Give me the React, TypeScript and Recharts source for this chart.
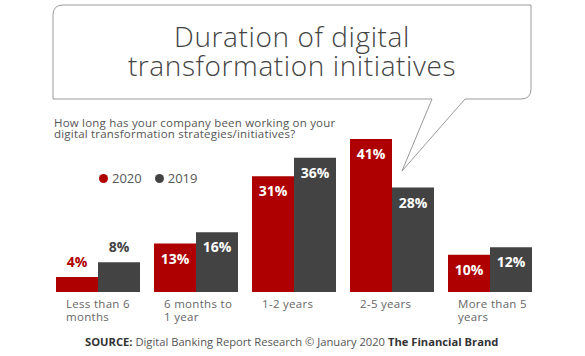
import React from 'react';
import { BarChart, Bar, XAxis, YAxis, LabelList, Legend } from 'recharts';

const categories = ['Less than 6 months', '6 months to 1 year', '1-2 years', '2-5 years', 'More than 5 years'];
const tickLines = [['Less than 6', 'months'], ['6 months to', '1 year'], ['1-2 years'], ['2-5 years'], ['More than 5', 'years']];
const values2020 = [4, 13, 31, 41, 10];
const values2019 = [8, 16, 36, 28, 12];
const seriesNames = ['2020', '2019'];

const RED = '#AE0000';
const DARK = '#434343';
const FONT = '"Open Sans", "DejaVu Sans", sans-serif';

const data = categories.map((c, i) => ({ name: c, idx: i, v2020: values2020[i], v2019: values2019[i] }));

const Tick = (props: any) => {
  const { x, y, payload } = props;
  const lines = tickLines[payload.index] || [payload.value];
  return (
    <g>
      {lines.map((l: string, i: number) => (
        <text key={i} x={x - 31.5} y={y + 16 + i * 13} textAnchor="start" fontSize={11.5} letterSpacing={0.3} fill="#666" fontFamily={FONT}>
          {l}
        </text>
      ))}
    </g>
  );
};

const makeLabel = (color: string) => (props: any) => {
  const { x, y, width, value } = props;
  const inside = value >= 10;
  return (
    <text
      x={x + width / 2}
      y={inside ? y + 20 : y - 10}
      textAnchor="middle"
      fontSize={14}
      fontWeight={700}
      fill={inside ? '#fff' : color}
      fontFamily={FONT}
    >
      {value}%
    </text>
  );
};

const LegendContent = () => (
  <div style={{ display: 'flex', alignItems: 'center', fontFamily: FONT, fontSize: 13, color: '#555' }}>
    <span style={{ display: 'inline-block', width: 9, height: 9, borderRadius: 5, background: RED, marginRight: 4 }} />
    <span style={{ marginRight: 13 }}>{seriesNames[0]}</span>
    <span style={{ display: 'inline-block', width: 9, height: 9, borderRadius: 5, background: DARK, marginRight: 4 }} />
    <span>{seriesNames[1]}</span>
  </div>
);

export default function App() {
  const bubble =
    'M 63 5 L 531 5 L 531 89 Q 531 99 521 99 L 465 99 L 402 171 L 432 99 L 53 99 L 53 15 Q 53 5 63 5 Z';
  return (
    <div style={{ position: 'absolute', left: 0, top: 0, width: 585, height: 356, background: '#fff' }}>
      <BarChart
        width={585}
        height={356}
        data={data}
        margin={{ top: 105.5, right: 46.5, bottom: 24, left: 48.5 }}
        barCategoryGap={7.5}
        barGap={0}
      >
        <XAxis dataKey="name" axisLine={false} tickLine={false} tickSize={0} tickMargin={0} height={40} interval={0} tick={<Tick />} />
        <YAxis hide domain={[0, 50]} />
        <Legend
          layout="horizontal"
          verticalAlign="middle"
          align="center"
          content={<LegendContent />}
          wrapperStyle={{ position: 'absolute', left: 99, top: 169, width: 120, height: 18 }}
        />
        <Bar dataKey="v2020" name={seriesNames[0]} fill={RED} isAnimationActive={false}>
          <LabelList dataKey="v2020" content={makeLabel(RED)} />
        </Bar>
        <Bar dataKey="v2019" name={seriesNames[1]} fill={DARK} isAnimationActive={false}>
          <LabelList dataKey="v2019" content={makeLabel(DARK)} />
        </Bar>
      </BarChart>
      <svg width={585} height={356} style={{ position: 'absolute', left: 0, top: 0, pointerEvents: 'none' }}>
        <path d={bubble} fill="none" stroke="#9a9a9a" strokeWidth={1} />
        <text x={292} y={47} textAnchor="middle" fontSize={28} letterSpacing={0.6} fontWeight={300} fill="#444" fontFamily={FONT}>
          Duration of digital
        </text>
        <text x={292} y={76} textAnchor="middle" fontSize={28} letterSpacing={0.6} fontWeight={300} fill="#444" fontFamily={FONT}>
          transformation initiatives
        </text>
        <text x={54} y={127} fontSize={11.5} letterSpacing={0.2} fill="#555" fontFamily={FONT}>
          How long has your company been working on your
        </text>
        <text x={54} y={138} fontSize={11.5} letterSpacing={0.2} fill="#555" fontFamily={FONT}>
          digital transformation strategies/initiatives?
        </text>
        <text x={85} y={346} fontSize={11.2} fill="#555" fontFamily={FONT}>
          <tspan fontWeight={700} fill="#333">SOURCE:</tspan>
          <tspan> Digital Banking Report Research © January 2020 </tspan>
          <tspan fontWeight={700} fill="#333">The Financial Brand</tspan>
        </text>
      </svg>
    </div>
  );
}
